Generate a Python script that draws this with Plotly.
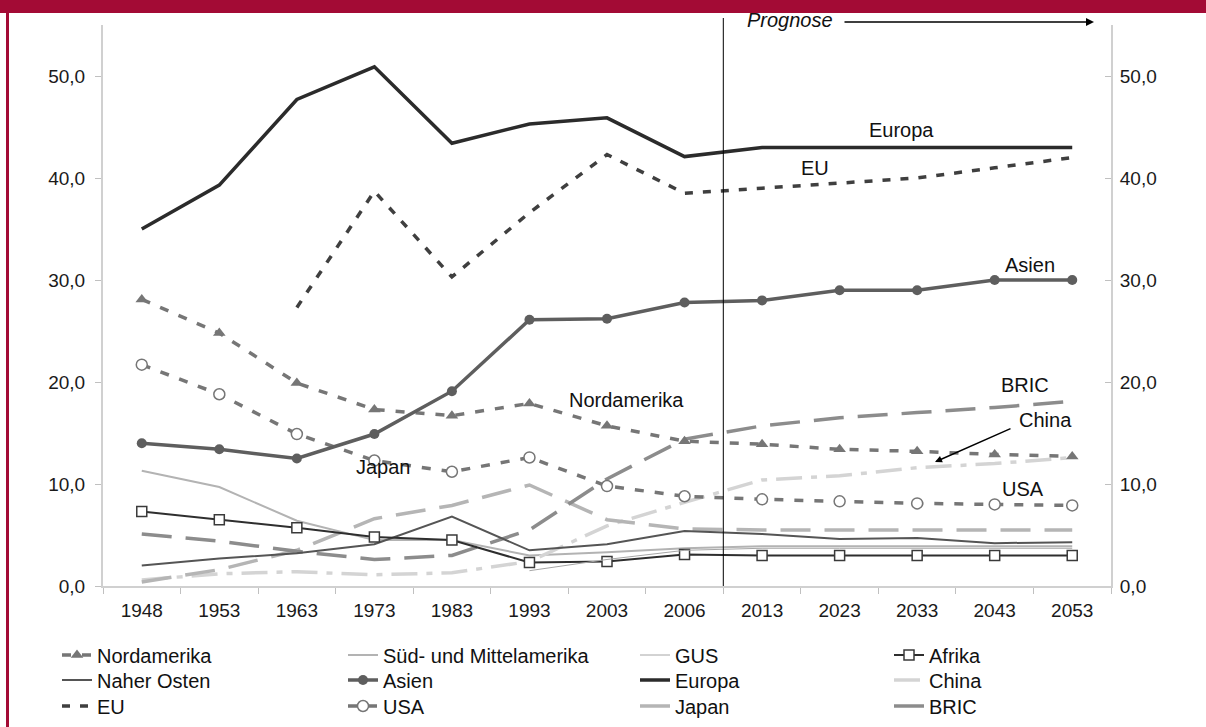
import plotly.graph_objects as go

years = ["1948", "1953", "1963", "1973", "1983", "1993", "2003", "2006",
         "2013", "2023", "2033", "2043", "2053"]

nordamerika = [28.1, 24.8, 19.9, 17.3, 16.7, 17.9, 15.7, 14.2, 13.9, 13.4, 13.2, 12.9, 12.7]
sued_mittelamerika = [11.3, 9.7, 6.4, 4.5, 4.5, 3.0, 3.3, 3.7, 3.9, 3.9, 3.9, 3.9, 3.9]
gus = [None, None, None, None, None, 1.5, 2.6, 3.5, 3.7, 3.7, 3.7, 3.7, 3.7]
afrika = [7.3, 6.5, 5.7, 4.8, 4.5, 2.3, 2.4, 3.1, 3.0, 3.0, 3.0, 3.0, 3.0]
naher_osten = [2.0, 2.7, 3.2, 4.1, 6.8, 3.5, 4.1, 5.4, 5.1, 4.6, 4.7, 4.2, 4.3]
asien = [14.0, 13.4, 12.5, 14.9, 19.1, 26.1, 26.2, 27.8, 28.0, 29.0, 29.0, 30.0, 30.0]
europa = [35.0, 39.3, 47.7, 50.9, 43.4, 45.3, 45.9, 42.1, 43.0, 43.0, 43.0, 43.0, 43.0]
china = [0.6, 1.2, 1.4, 1.1, 1.3, 2.4, 5.9, 8.2, 10.4, 10.8, 11.6, 12.0, 12.6]
eu = [None, None, 27.3, 38.7, 30.3, 36.6, 42.3, 38.5, 39.0, 39.5, 40.0, 41.0, 42.0]
usa = [21.7, 18.8, 14.9, 12.3, 11.2, 12.6, 9.8, 8.8, 8.5, 8.3, 8.1, 8.0, 7.9]
japan = [0.4, 1.6, 3.5, 6.6, 7.9, 9.9, 6.5, 5.6, 5.5, 5.5, 5.5, 5.5, 5.5]
bric = [5.1, 4.4, 3.4, 2.6, 3.0, 5.5, 10.5, 14.4, 15.7, 16.5, 17.0, 17.5, 18.1]

y_ticks = [0, 10, 20, 30, 40, 50]

FONT = "Liberation Sans, Arial, sans-serif"
RED = "#a30b35"

W, H = 1206, 727
ML, MR, MT, MB = 103, 95, 25, 141
PW, PH = W - ML - MR, H - MT - MB


def px_x(px):
    return (px - ML) / PW


def px_y(py):
    return (H - MB - py) / PH


# legend grid: (column text x, row centre y) in pixels
legend_cols = [97, 383, 675, 929]
legend_rows = [655, 680, 706]
legend_slot = {}

fig = go.Figure()
_count = [0]


def add(name, y, color, width, col, row, dash="solid", marker=None, yaxis="y"):
    _count[0] += 1
    key = "legend" if _count[0] == 1 else "legend%d" % _count[0]
    legend_slot[key] = (legend_cols[col], legend_rows[row])
    kw = dict(x=years, y=y, name=name, mode="lines", legend=key, yaxis=yaxis,
              line=dict(color=color, width=width, dash=dash),
              connectgaps=False, hoverinfo="skip")
    if marker is not None:
        kw["mode"] = "lines+markers"
        kw["marker"] = marker
    fig.add_trace(go.Scatter(**kw))


add("GUS", gus, "#a6a6a6", 1, 2, 0, yaxis="y2")
add("Süd- und Mittelamerika", sued_mittelamerika, "#b3b3b3", 2, 1, 0)
add("China", china, "#d4d4d4", 3.5, 3, 1, dash="26px,9px,6px,9px")
add("Japan", japan, "#b5b5b5", 3.5, 2, 2, dash="30px,14px")
add("BRIC", bric, "#8c8c8c", 3.5, 3, 2, dash="30px,14px")
add("Naher Osten", naher_osten, "#555555", 2, 0, 1)
add("Afrika", afrika, "#2e2e2e", 2, 3, 0,
    marker=dict(symbol="square", size=10, color="white",
                line=dict(color="#3a3a3a", width=1.5)))
add("Nordamerika", nordamerika, "#767676", 3.5, 0, 0, dash="9px,11px",
    marker=dict(symbol="triangle-up", size=11, color="#767676"))
add("USA", usa, "#767676", 3.5, 1, 2, dash="9px,11px",
    marker=dict(symbol="circle", size=11, color="white",
                line=dict(color="#767676", width=1.5)))
add("Asien", asien, "#5e5e5e", 3.5, 1, 1,
    marker=dict(symbol="circle", size=10, color="#5e5e5e"))
add("EU", eu, "#3f3f3f", 3.5, 0, 2, dash="8px,10px")
add("Europa", europa, "#2b2b2b", 3.5, 2, 1)

axis_common = dict(showline=True, linecolor="#d0d0d0", linewidth=2,
                   tickcolor="#c0c0c0", ticklen=6, tickwidth=1,
                   showgrid=False, zeroline=False, automargin=False,
                   tickfont=dict(family=FONT, size=19, color="#1a1a1a"))

fig.update_layout(
    width=W, height=H,
    margin=dict(l=ML, r=MR, t=MT, b=MB, autoexpand=False),
    paper_bgcolor="white", plot_bgcolor="white",
    separators=",.",
    font=dict(family=FONT, size=20, color="#111111"),
    xaxis=dict(type="category", range=[-0.5, 12.5], tickson="boundaries",
               ticks="outside", tickangle=0, ticklabelstandoff=6, **axis_common),
    yaxis=dict(range=[0, 55], tickvals=y_ticks, tickformat=".1f",
               ticks="outside", ticklabelstandoff=6, **axis_common),
    yaxis2=dict(range=[0, 55], tickvals=y_ticks, tickformat=".1f",
                overlaying="y", side="right", ticks="inside",
                ticklabelstandoff=3, **axis_common),
    showlegend=True,
)

leg_common = dict(xref="container", yref="container", orientation="v",
                  xanchor="left", yanchor="middle", bgcolor="rgba(0,0,0,0)",
                  font=dict(family=FONT, size=20, color="#111111"),
                  tracegroupgap=0, itemclick=False, itemdoubleclick=False)
for key, (tx, ty) in legend_slot.items():
    fig.update_layout(**{key: dict(x=(tx - 40) / W, y=1 - ty / H, **leg_common)})

# frame decoration
fig.add_shape(type="rect", xref="paper", yref="paper",
              x0=px_x(0), x1=px_x(W), y0=px_y(13), y1=px_y(0),
              fillcolor=RED, line=dict(width=0), layer="above")
fig.add_shape(type="rect", xref="paper", yref="paper",
              x0=px_x(6), x1=px_x(9), y0=px_y(H), y1=px_y(0),
              fillcolor=RED, line=dict(width=0), layer="above")

# forecast divider
fig.add_shape(type="line", xref="x", yref="paper", x0=7.5, x1=7.5,
              y0=0, y1=px_y(18), line=dict(color="black", width=1))


def idx(px):
    return (px - ML) / (PW / 13) - 0.5


def val(py):
    return (H - MB - py) / (PH / 55)


labels = [("Europa", 901, 130), ("EU", 815, 168), ("Asien", 1030, 265),
          ("Nordamerika", 626, 400), ("BRIC", 1025, 385), ("China", 1045, 420),
          ("USA", 1023, 489), ("Japan", 383, 467)]
for t, px, py in labels:
    fig.add_annotation(x=idx(px), y=val(py), xref="x", yref="y", text=t,
                       showarrow=False, font=dict(family=FONT, size=20, color="#111111"))

fig.add_annotation(x=idx(790), y=px_y(20), xref="x", yref="paper", text="<i>Prognose</i>",
                   xanchor="center", yanchor="middle",
                   showarrow=False, font=dict(family=FONT, size=20, color="#111111"))
fig.add_annotation(x=idx(1094), y=px_y(22), xref="x", yref="paper", text="",
                   ax=843 - 1094, ay=0, axref="pixel", ayref="pixel",
                   showarrow=True, arrowhead=2, arrowsize=1, arrowwidth=1.6,
                   arrowcolor="black")
fig.add_annotation(x=idx(935), y=val(462), xref="x", yref="y", text="",
                   ax=idx(1012), ay=val(428), axref="x", ayref="y",
                   showarrow=True, arrowhead=2, arrowsize=1, arrowwidth=1.4,
                   arrowcolor="black")

fig.write_html("out.html",
               config={"displayModeBar": False},
               post_script="document.body.style.margin='0px';"
                           "document.body.style.overflow='hidden';")
